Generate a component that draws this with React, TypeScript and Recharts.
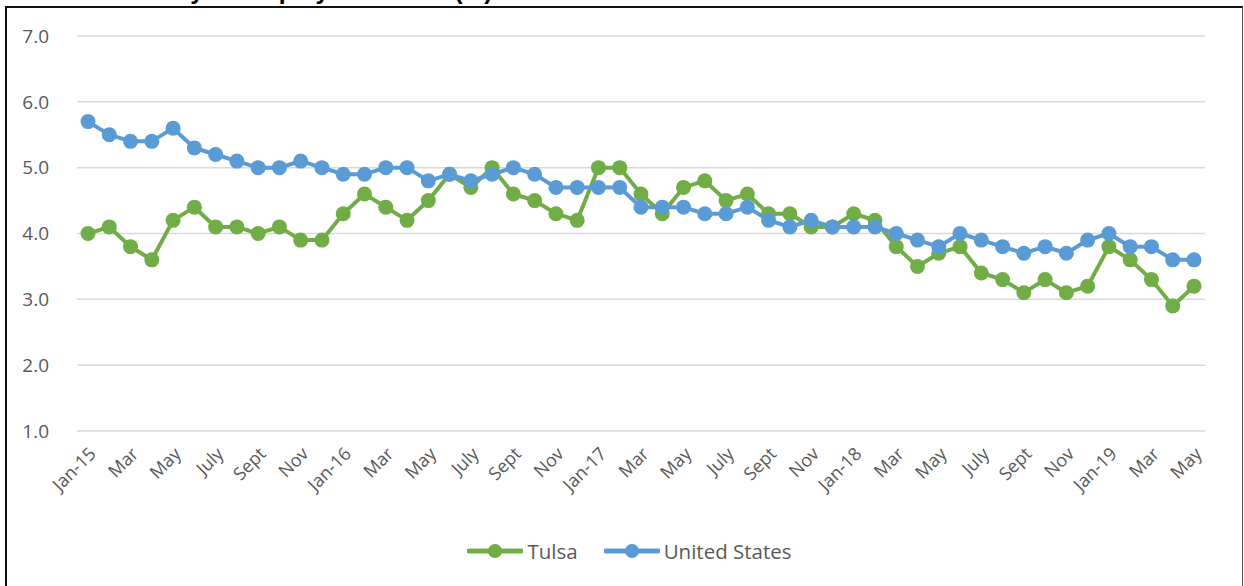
import { LineChart, Line, XAxis, YAxis, CartesianGrid, Legend } from "recharts";

const months = [
  "Jan-15", "Feb", "Mar", "Apr", "May", "June", "July", "Aug", "Sept", "Oct", "Nov", "Dec",
  "Jan-16", "Feb", "Mar", "Apr", "May", "June", "July", "Aug", "Sept", "Oct", "Nov", "Dec",
  "Jan-17", "Feb", "Mar", "Apr", "May", "June", "July", "Aug", "Sept", "Oct", "Nov", "Dec",
  "Jan-18", "Feb", "Mar", "Apr", "May", "June", "July", "Aug", "Sept", "Oct", "Nov", "Dec",
  "Jan-19", "Feb", "Mar", "Apr", "May",
];

const tulsa = [
  4.0, 4.1, 3.8, 3.6, 4.2, 4.4, 4.1, 4.1, 4.0, 4.1, 3.9, 3.9,
  4.3, 4.6, 4.4, 4.2, 4.5, 4.9, 4.7, 5.0, 4.6, 4.5, 4.3, 4.2,
  5.0, 5.0, 4.6, 4.3, 4.7, 4.8, 4.5, 4.6, 4.3, 4.3, 4.1, 4.1,
  4.3, 4.2, 3.8, 3.5, 3.7, 3.8, 3.4, 3.3, 3.1, 3.3, 3.1, 3.2,
  3.8, 3.6, 3.3, 2.9, 3.2,
];

const unitedStates = [
  5.7, 5.5, 5.4, 5.4, 5.6, 5.3, 5.2, 5.1, 5.0, 5.0, 5.1, 5.0,
  4.9, 4.9, 5.0, 5.0, 4.8, 4.9, 4.8, 4.9, 5.0, 4.9, 4.7, 4.7,
  4.7, 4.7, 4.4, 4.4, 4.4, 4.3, 4.3, 4.4, 4.2, 4.1, 4.2, 4.1,
  4.1, 4.1, 4.0, 3.9, 3.8, 4.0, 3.9, 3.8, 3.7, 3.8, 3.7, 3.9,
  4.0, 3.8, 3.8, 3.6, 3.6,
];

const yTicks = [1, 2, 3, 4, 5, 6, 7];

const data = months.map((m, i) => ({
  month: m,
  tulsa: tulsa[i],
  us: unitedStates[i],
}));

const FONT = "'Open Sans', sans-serif";
const GREY = "#595959";

function MonthTick(props: any) {
  const { x, y, payload } = props;
  const ax = x + 9;
  const ay = y + 16;
  return (
    <text
      x={ax}
      y={ay}
      transform={`rotate(-45, ${ax}, ${ay})`}
      textAnchor="end"
      fill={GREY}
      fontSize={18}
      fontFamily={FONT}
    >
      {payload.value}
    </text>
  );
}

function LegendContent(props: any) {
  const { payload } = props;
  return (
    <div
      style={{
        display: "flex",
        justifyContent: "center",
        alignItems: "center",
        gap: 26,
        marginTop: 6,
        paddingLeft: 54,
        fontFamily: FONT,
        fontSize: 20.5,
        color: GREY,
      }}
    >
      {(payload || []).map((p: any) => (
        <div key={p.value} style={{ display: "flex", alignItems: "center" }}>
          <svg width={56} height={16} style={{ marginRight: 4 }}>
            <line x1={2} y1={8} x2={54} y2={8} stroke={p.color} strokeWidth={5} strokeLinecap="round" />
            <circle cx={28} cy={8} r={7} fill={p.color} />
          </svg>
          <span>{p.value}</span>
        </div>
      ))}
    </div>
  );
}

export default function App() {
  return (
    <div
      style={{
        position: "absolute",
        left: 0,
        top: 0,
        width: 1244,
        height: 586,
        overflow: "hidden",
        background: "#fff",
      }}
    >
      <div
        style={{
          position: "absolute",
          left: 110,
          top: -23,
          fontFamily: "'Liberation Sans', Arial, sans-serif",
          fontWeight: "bold",
          fontSize: 24.5,
          lineHeight: "28px",
          whiteSpace: "nowrap",
          color: "#000",
        }}
      >
        Monthly Unemployment Rate (%)
      </div>
      <div
        style={{
          position: "absolute",
          left: 5,
          top: 6,
          width: 1235,
          height: 600,
          borderTop: "2px solid #111",
          borderLeft: "2px solid #111",
          borderRight: "1px solid #555",
          background: "#fff",
        }}
      />
      <LineChart
        width={1244}
        height={586}
        data={data}
        margin={{ top: 36, right: 39, left: 0, bottom: 20 }}
        style={{ position: "absolute", left: 0, top: 0 }}
      >
        <CartesianGrid vertical={false} stroke="#d9d9d9" strokeWidth={1.5} />
        <XAxis
          dataKey="month"
          interval={1}
          tick={<MonthTick />}
          tickLine={false}
          axisLine={false}
          height={100}
          padding={{ left: 11, right: 11 }}
        />
        <YAxis
          domain={[1, 7]}
          ticks={yTicks}
          width={77}
          tickLine={false}
          axisLine={false}
          tickFormatter={(v: number) => v.toFixed(1)}
          tick={{ fill: GREY, fontSize: 19, fontFamily: FONT }}
          tickMargin={22}
        />
        <Legend verticalAlign="bottom" height={35} content={<LegendContent />} />
        <Line
          name="Tulsa"
          dataKey="tulsa"
          stroke="#70ad47"
          strokeWidth={4}
          dot={{ r: 7.5, fill: "#70ad47", stroke: "#70ad47", strokeWidth: 0 }}
          isAnimationActive={false}
        />
        <Line
          name="United States"
          dataKey="us"
          stroke="#5b9bd5"
          strokeWidth={4}
          dot={{ r: 7.5, fill: "#5b9bd5", stroke: "#5b9bd5", strokeWidth: 0 }}
          isAnimationActive={false}
        />
      </LineChart>
    </div>
  );
}
